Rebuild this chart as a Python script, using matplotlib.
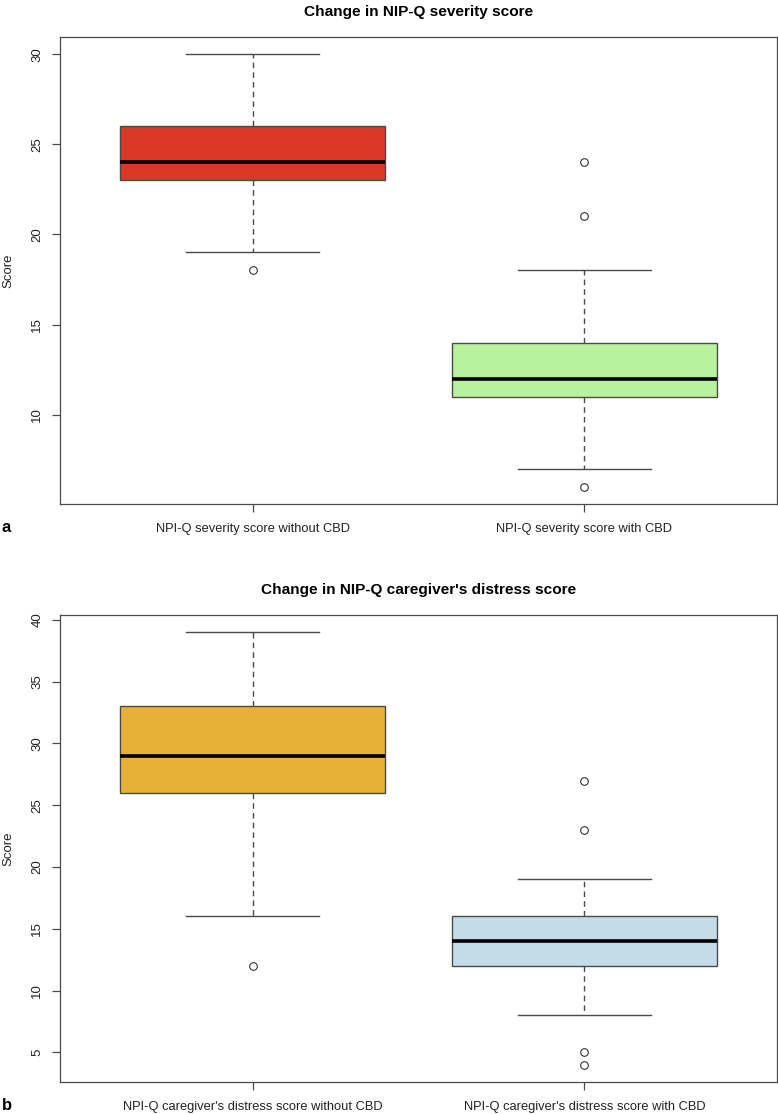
import matplotlib.pyplot as plt

plt.rcParams['font.family'] = ['Liberation Sans', 'DejaVu Sans']

# ----------------------------------------------------------------------------------------------
# Panel a: NPI-Q severity score
sev_labels = ["NPI-Q severity score without CBD", "NPI-Q severity score with CBD"]
sev_q1 = [23, 11]
sev_med = [24, 12]
sev_q3 = [26, 14]
sev_low = [19, 7]
sev_high = [30, 18]
sev_fliers = [[18], [24, 21, 6]]
sev_colors = ["#DA3726", "#B8F29D"]

# Panel b: NPI-Q caregiver's distress score
dis_labels = ["NPI-Q caregiver's distress score without CBD", "NPI-Q caregiver's distress score with CBD"]
dis_q1 = [26, 12]
dis_med = [29, 14]
dis_q3 = [33, 16]
dis_low = [16, 8]
dis_high = [39, 19]
dis_fliers = [[12], [27, 23, 5, 4]]
dis_colors = ["#E6B136", "#C4DBE8"]

EDGE = "#4a4a4a"


# ----------------------------------------------------------------------------------------------
def draw_panel(ax, q1, med, q3, low, high, fliers, colors, labels, title, yticks):
    """
    Draws an R-style boxplot panel from precomputed stats.
    """
    stats = []
    for i in range(len(q1)):
        stats.append({'q1': q1[i], 'med': med[i], 'q3': q3[i],
                      'whislo': low[i], 'whishi': high[i], 'fliers': fliers[i]})
    bp = ax.bxp(stats, positions=[1, 2], widths=0.8, patch_artist=True,
                showfliers=True, capwidths=0.4,
                boxprops=dict(edgecolor=EDGE, linewidth=1.0),
                medianprops=dict(color='black', linewidth=2.6, solid_capstyle='butt'),
                whiskerprops=dict(color=EDGE, linewidth=1.0, linestyle=(0, (4, 3))),
                capprops=dict(color=EDGE, linewidth=1.0),
                flierprops=dict(marker='o', markersize=5.5, markerfacecolor='none',
                                markeredgecolor='#333333', markeredgewidth=0.8))
    for patch, c in zip(bp['boxes'], colors):
        patch.set_facecolor(c)

    # R default axis extents (4% padding)
    lo = min(min(low), min(min(f) for f in fliers))
    hi = max(max(high), max(max(f) for f in fliers))
    pad = (hi - lo) * 0.04
    ax.set_ylim(lo - pad, hi + pad)
    ax.set_xlim(0.42, 2.58)

    ax.set_yticks(yticks)
    ax.set_yticklabels([str(t) for t in yticks], rotation=90, va='center')
    ax.set_xticks([1, 2])
    ax.set_xticklabels(labels)
    ax.tick_params(axis='both', colors=EDGE, labelcolor='#222222', labelsize=9.5,
                   length=6, width=0.9)
    ax.tick_params(axis='x', labelsize=9.3, pad=8)
    ax.tick_params(axis='y', pad=6)
    for s in ax.spines.values():
        s.set_color(EDGE)
        s.set_linewidth(0.9)
    ax.set_ylabel("Score", fontsize=9.5, color='#222222')
    ax.yaxis.set_label_coords(-0.064, 0.5)
    ax.set_title(title, fontsize=11.1, fontweight='bold', pad=15)


fig = plt.figure(figsize=(7.78, 11.14), dpi=100)
ax_a = fig.add_axes([0.0771, 0.5476, 0.9216, 0.4192])
ax_b = fig.add_axes([0.0771, 0.0287, 0.9216, 0.4193])

draw_panel(ax_a, sev_q1, sev_med, sev_q3, sev_low, sev_high, sev_fliers, sev_colors,
           sev_labels, "Change in NIP-Q severity score", [10, 15, 20, 25, 30])
draw_panel(ax_b, dis_q1, dis_med, dis_q3, dis_low, dis_high, dis_fliers, dis_colors,
           dis_labels, "Change in NIP-Q caregiver's distress score", [5, 10, 15, 20, 25, 30, 35, 40])

fig.text(0.002, 1 - 527 / 1114, "a", fontsize=12, fontweight='bold', va='center', ha='left')
fig.text(0.002, 1 - 1105 / 1114, "b", fontsize=12, fontweight='bold', va='center', ha='left')

fig.savefig("out.png", dpi=100)
